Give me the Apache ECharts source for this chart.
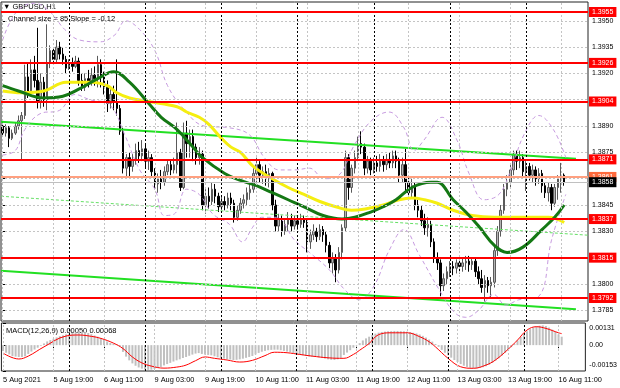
<!DOCTYPE html>
<html><head><meta charset="utf-8">
<script src="https://cdn.jsdelivr.net/npm/echarts@6/dist/echarts.min.js"></script>
<style>html,body{margin:0;padding:0;background:#fff}#c{width:620px;height:388px}</style>
</head><body><div id="c"></div><script>
// ---- hourly candles GBPUSD H1 (5 Aug 03:00 .. 16 Aug 12:00) ----
const opens = [1.3890,1.3886,1.3889,1.3883,1.3886,1.3890,1.3893,1.3896,1.3918,1.3910,
1.3922,1.3916,1.3904,1.3915,1.3905,1.3926,1.3933,1.3928,1.3935,1.3931,
1.3928,1.3923,1.3926,1.3924,1.3927,1.3916,1.3912,1.3917,1.3915,1.3919,
1.3917,1.3925,1.3918,1.3912,1.3903,1.3908,1.3904,1.3900,1.3887,1.3866,
1.3872,1.3867,1.3871,1.3876,1.3873,1.3877,1.3870,1.3872,1.3864,1.3857,
1.3860,1.3858,1.3864,1.3868,1.3865,1.3868,1.3875,1.3855,1.3886,1.3880,
1.3884,1.3878,1.3872,1.3874,1.3845,1.3850,1.3847,1.3854,1.3850,1.3844,
1.3847,1.3845,1.3849,1.3846,1.3838,1.3842,1.3846,1.3848,1.3852,1.3854,
1.3863,1.3868,1.3862,1.3864,1.3860,1.3863,1.3845,1.3833,1.3837,1.3830,
1.3834,1.3837,1.3833,1.3836,1.3834,1.3837,1.3835,1.3824,1.3828,1.3830,
1.3827,1.3831,1.3828,1.3822,1.3812,1.3815,1.3808,1.3818,1.3832,1.3872,
1.3855,1.3866,1.3872,1.3880,1.3878,1.3866,1.3870,1.3865,1.3869,1.3867,
1.3870,1.3868,1.3871,1.3869,1.3873,1.3870,1.3862,1.3868,1.3858,1.3852,
1.3856,1.3845,1.3842,1.3836,1.3832,1.3834,1.3824,1.3815,1.3812,1.3799,
1.3803,1.3807,1.3810,1.3809,1.3812,1.3810,1.3812,1.3813,1.3811,1.3813,
1.3807,1.3803,1.3798,1.3802,1.3799,1.3801,1.3819,1.3830,1.3842,1.3854,
1.3858,1.3865,1.3874,1.3870,1.3872,1.3864,1.3867,1.3862,1.3865,1.3860,
1.3863,1.3856,1.3852,1.3855,1.3846,1.3855,1.3860,1.3862];
const closes = [1.3886,1.3889,1.3883,1.3886,1.3890,1.3893,1.3896,1.3918,1.3910,1.3922,
1.3916,1.3904,1.3915,1.3905,1.3926,1.3933,1.3928,1.3935,1.3931,1.3928,
1.3923,1.3926,1.3924,1.3927,1.3916,1.3912,1.3917,1.3915,1.3919,1.3917,
1.3925,1.3918,1.3912,1.3903,1.3908,1.3904,1.3900,1.3887,1.3866,1.3872,
1.3867,1.3871,1.3876,1.3873,1.3877,1.3870,1.3872,1.3864,1.3857,1.3860,
1.3858,1.3864,1.3868,1.3865,1.3868,1.3875,1.3855,1.3886,1.3880,1.3884,
1.3878,1.3872,1.3874,1.3845,1.3850,1.3847,1.3854,1.3850,1.3844,1.3847,
1.3845,1.3849,1.3846,1.3838,1.3842,1.3846,1.3848,1.3852,1.3854,1.3863,
1.3868,1.3862,1.3864,1.3860,1.3863,1.3845,1.3833,1.3837,1.3830,1.3834,
1.3837,1.3833,1.3836,1.3834,1.3837,1.3835,1.3824,1.3828,1.3830,1.3827,
1.3831,1.3828,1.3822,1.3812,1.3815,1.3808,1.3818,1.3832,1.3872,1.3855,
1.3866,1.3872,1.3880,1.3878,1.3866,1.3870,1.3865,1.3869,1.3867,1.3870,
1.3868,1.3871,1.3869,1.3873,1.3870,1.3862,1.3868,1.3858,1.3852,1.3856,
1.3845,1.3842,1.3836,1.3832,1.3834,1.3824,1.3815,1.3812,1.3799,1.3803,
1.3807,1.3810,1.3809,1.3812,1.3810,1.3812,1.3813,1.3811,1.3813,1.3807,
1.3803,1.3798,1.3802,1.3799,1.3801,1.3819,1.3830,1.3842,1.3854,1.3858,
1.3865,1.3874,1.3870,1.3872,1.3864,1.3867,1.3862,1.3865,1.3860,1.3863,
1.3856,1.3852,1.3855,1.3846,1.3855,1.3860,1.3862,1.3858];
const lows = [1.3884,1.3884,1.3878,1.3882,1.3885,1.3888,1.3871,1.3894,1.3906,1.3908,
1.3912,1.3900,1.3900,1.3901,1.3899,1.3923,1.3926,1.3926,1.3928,1.3925,
1.3920,1.3922,1.3921,1.3923,1.3913,1.3910,1.3910,1.3912,1.3913,1.3913,
1.3912,1.3912,1.3908,1.3898,1.3900,1.3899,1.3896,1.3885,1.3863,1.3860,
1.3860,1.3864,1.3868,1.3869,1.3870,1.3866,1.3865,1.3861,1.3854,1.3852,
1.3854,1.3856,1.3862,1.3862,1.3863,1.3863,1.3853,1.3854,1.3872,1.3872,
1.3870,1.3868,1.3868,1.3842,1.3840,1.3843,1.3845,1.3846,1.3841,1.3842,
1.3842,1.3843,1.3842,1.3835,1.3836,1.3840,1.3843,1.3845,1.3848,1.3852,
1.3858,1.3858,1.3857,1.3856,1.3855,1.3842,1.3830,1.3830,1.3827,1.3828,
1.3830,1.3830,1.3831,1.3831,1.3832,1.3832,1.3818,1.3820,1.3825,1.3824,
1.3825,1.3824,1.3818,1.3809,1.3806,1.3801,1.3806,1.3814,1.3830,1.3848,
1.3852,1.3863,1.3870,1.3874,1.3862,1.3863,1.3862,1.3863,1.3864,1.3864,
1.3864,1.3865,1.3866,1.3866,1.3866,1.3858,1.3858,1.3852,1.3848,1.3849,
1.3842,1.3838,1.3833,1.3828,1.3827,1.3821,1.3812,1.3808,1.3793,1.3796,
1.3800,1.3804,1.3805,1.3806,1.3806,1.3807,1.3808,1.3807,1.3808,1.3804,
1.3800,1.3795,1.3790,1.3795,1.3792,1.3798,1.3816,1.3827,1.3840,1.3850,
1.3855,1.3862,1.3865,1.3866,1.3860,1.3853,1.3859,1.3858,1.3856,1.3857,
1.3852,1.3849,1.3847,1.3842,1.3844,1.3848,1.3852,1.3856];
const highs = [1.3893,1.3891,1.3890,1.3888,1.3892,1.3896,1.3898,1.3925,1.3926,1.3928,
1.3930,1.3946,1.3920,1.3918,1.3948,1.3936,1.3935,1.3939,1.3938,1.3935,
1.3930,1.3928,1.3929,1.3930,1.3929,1.3920,1.3920,1.3922,1.3923,1.3924,
1.3930,1.3928,1.3921,1.3916,1.3912,1.3913,1.3928,1.3902,1.3889,1.3874,
1.3875,1.3874,1.3880,1.3881,1.3882,1.3880,1.3876,1.3874,1.3866,1.3863,
1.3865,1.3867,1.3871,1.3871,1.3872,1.3892,1.3877,1.3892,1.3893,1.3888,
1.3888,1.3880,1.3878,1.3876,1.3854,1.3855,1.3858,1.3857,1.3852,1.3850,
1.3850,1.3852,1.3852,1.3848,1.3845,1.3849,1.3851,1.3855,1.3857,1.3866,
1.3872,1.3870,1.3867,1.3868,1.3866,1.3864,1.3848,1.3840,1.3839,1.3837,
1.3841,1.3840,1.3839,1.3839,1.3840,1.3839,1.3837,1.3831,1.3834,1.3832,
1.3834,1.3833,1.3830,1.3824,1.3818,1.3817,1.3821,1.3834,1.3876,1.3874,
1.3868,1.3876,1.3884,1.3887,1.3880,1.3873,1.3872,1.3872,1.3873,1.3874,
1.3873,1.3874,1.3875,1.3876,1.3876,1.3872,1.3872,1.3877,1.3862,1.3860,
1.3858,1.3848,1.3845,1.3840,1.3838,1.3836,1.3826,1.3818,1.3814,1.3806,
1.3810,1.3813,1.3813,1.3814,1.3814,1.3815,1.3816,1.3816,1.3815,1.3815,
1.3810,1.3808,1.3805,1.3804,1.3804,1.3822,1.3833,1.3845,1.3857,1.3862,
1.3868,1.3876,1.3876,1.3876,1.3874,1.3870,1.3869,1.3868,1.3867,1.3866,
1.3865,1.3858,1.3858,1.3857,1.3857,1.3862,1.3869,1.3863];

// ---- indicator readings [bar, value] ----
const maYellow = [[0,1.3910],[6,1.3909],[13,1.3910],[20,1.3915],[28,1.3915],[33,1.3913],[36,1.3909],[40,1.3906],[46,1.3904],[55,1.3901],[58,1.3898],[62,1.3895],[65,1.3891],[69,1.3883],[72,1.3878],[75,1.3875],[79,1.3867],[85,1.3860],[90,1.3855],[95,1.3851],[100,1.3847],[105,1.3844],[110,1.3842],[115,1.3843],[120,1.3845],[125,1.3848],[129,1.3849],[133,1.3848],[137,1.3846],[142,1.3842],[148,1.3839],[155,1.3838],[165,1.3838],[172,1.3838],[177,1.3835]];
const maGreen = [[0,1.3913],[5,1.3910],[13,1.3906],[19,1.3907],[24,1.3911],[30,1.3917],[35,1.3921],[40,1.3915],[46,1.3903],[50,1.3895],[55,1.3888],[60,1.3878],[63,1.3872],[70,1.3863],[75,1.3859],[80,1.3856],[85,1.3852],[90,1.3848],[95,1.3844],[101,1.3839],[107,1.3837],[111,1.3838],[116,1.3841],[120,1.3844],[124,1.3848],[129,1.3855],[135,1.3858],[137,1.3858],[142,1.3848],[146,1.3841],[150,1.3833],[155,1.3822],[159,1.3818],[164,1.3821],[170,1.3831],[174,1.3838],[177,1.3845]];
const bandUpper = [[0,1.3939],[2.3,1.3949],[5.5,1.3957],[10,1.3960],[15,1.3955],[19.6,1.3945],[24.3,1.3939],[30.6,1.3938],[35.4,1.3942],[38.8,1.3950],[43.2,1.3945],[48,1.3933],[52,1.3913],[57.4,1.3899],[63.6,1.3890],[71.5,1.3889],[77.8,1.3885],[82.5,1.3872],[87.2,1.3865],[92,1.3865],[96.7,1.3866],[101.4,1.3860],[106,1.3862],[110.8,1.3879],[116.2,1.3893],[121.8,1.3898],[126.5,1.3889],[129.7,1.3876],[132.8,1.3882],[138.5,1.3895],[143.2,1.3882],[147,1.3863],[151.7,1.3848],[156.4,1.3851],[160.2,1.3865],[164.3,1.3885],[169,1.3896],[173.6,1.3888],[177.5,1.3872]];
const bandLower = [[0,1.38735],[4,1.3876],[7,1.3888],[11.8,1.3897],[18,1.3899],[22.8,1.3908],[27.5,1.3905],[33.8,1.3902],[38.5,1.3885],[43.2,1.3865],[48,1.3854],[51,1.3839],[54.2,1.3840],[58,1.3854],[62,1.3851],[66.2,1.3840],[71.5,1.3834],[75.6,1.3824],[78.7,1.3832],[81.6,1.3838],[86.3,1.3838],[92,1.3825],[96.7,1.3818],[103,1.3808],[107.7,1.3797],[112.4,1.3791],[117.1,1.3799],[121.8,1.3819],[126.5,1.3831],[131.2,1.3817],[137.5,1.3797],[142.3,1.3784],[146,1.3781],[150,1.3785],[154.8,1.3794],[158.6,1.3788],[162.7,1.3791],[169,1.3793],[173,1.3825],[177.5,1.3851]];
const channelUpper = [[-0.5,1.38924],[180.7,1.38714]];
const channelLower = [[-0.5,1.38075],[180.7,1.37856]];
const channelMid = [[-0.5,1.38500],[184.5,1.38278]];

// ---- MACD(12,26,9) ----
const macdHist = [-0.00035,-0.00045,-0.00055,-0.00065,-0.00068,-0.0007,-0.0007,-0.00066,-0.00052,-0.00038,
-0.00026,-0.00015,-0.00004,0.0001,0.00022,0.0003,0.00038,0.00046,0.00053,0.00058,
0.00064,0.00068,0.00072,0.00077,0.00081,0.0008,0.00077,0.00072,0.00065,0.00057,
0.0005,0.00042,0.00032,0.00022,0.00013,0.00008,0.00005,-0.00008,-0.0004,-0.00068,
-0.0009,-0.00108,-0.00122,-0.00132,-0.00139,-0.00144,-0.00146,-0.00145,-0.00141,-0.00136,
-0.00129,-0.0012,-0.00112,-0.00105,-0.00097,-0.0009,-0.00084,-0.00076,-0.0007,-0.00063,
-0.00056,-0.0005,-0.00047,-0.00052,-0.00056,-0.00058,-0.0006,-0.00066,-0.00072,-0.00076,
-0.0008,-0.00083,-0.00085,-0.00088,-0.00087,-0.00084,-0.0008,-0.00075,-0.0007,-0.00064,
-0.00055,-0.00046,-0.00039,-0.00034,-0.0003,-0.00028,-0.00027,-0.00027,-0.0003,-0.00034,
-0.00038,-0.00042,-0.00048,-0.00053,-0.00057,-0.0006,-0.00064,-0.00067,-0.00069,-0.0007,
-0.00072,-0.00075,-0.00079,-0.00084,-0.00087,-0.00088,-0.00084,-0.00075,-0.00058,-0.00044,
-0.0003,-0.00015,-0.00002,0.00012,0.00028,0.0004,0.0005,0.0006,0.00068,0.00074,
0.00078,0.0008,0.00082,0.00083,0.00084,0.00084,0.00083,0.00082,0.0008,0.00077,
0.00073,0.00069,0.00063,0.00055,0.00045,0.00033,0.00021,0.00007,-0.0001,-0.00028,
-0.00045,-0.0006,-0.00074,-0.00088,-0.001,-0.00112,-0.00122,-0.00129,-0.00134,-0.00136,
-0.00137,-0.00135,-0.00131,-0.00125,-0.00116,-0.00105,-0.00092,-0.00078,-0.00062,-0.00046,
-0.0003,-0.00012,0.00008,0.00028,0.00048,0.00066,0.00082,0.00095,0.00105,0.00111,
0.00115,0.00117,0.00113,0.00104,0.00092,0.00078,0.00064,0.0005];
const macdSignal = [[0,-0.00047],[5,-0.00082],[8,-0.00065],[13,-0.0001],[20,0.00054],[24,0.0006],[28,0.00052],[31,0.0004],[35,0.00012],[38,-0.0002],[41,-0.0007],[44,-0.00105],[47,-0.00124],[51,-0.00136],[55,-0.0013],[58,-0.00118],[61,-0.00092],[64,-0.0007],[67,-0.00078],[71,-0.00088],[75,-0.001],[79,-0.0009],[83,-0.00062],[86,-0.00042],[90,-0.00045],[94,-0.00055],[98,-0.00065],[103,-0.00075],[108,-0.00078],[111,-0.00055],[113,-0.0003],[116,0.0001],[119,0.00062],[123,0.00073],[128,0.00073],[132,0.0005],[135,0.0002],[137,-0.0001],[141,-0.00078],[145,-0.00128],[149,-0.00137],[153,-0.00118],[156,-0.00088],[160,-0.00025],[163,0.0003],[166,0.00089],[169,0.00109],[172,0.00099],[176,0.00073],[177,0.00068]];

// ---- levels and axis ticks ----
const redLevels = [1.3955,1.3926,1.3904,1.3871,1.3837,1.3815,1.3792];
const orangeLevel = 1.3861;
const bidPrice = 1.3858;
const priceTicks = [1.3785,1.3800,1.3815,1.3830,1.3845,1.3860,1.3875,1.3890,1.3905,1.3920,1.3935,1.3950];
const macdTicks = [-0.00153,0,0.00131];
const dayNames = ['5 Aug','6 Aug','9 Aug','10 Aug','11 Aug','12 Aug','13 Aug','16 Aug'];
const tickBars = [0,16,32,48,64,80,96,112,128,144,160,176];
const tickLabels = ['5 Aug 2021','5 Aug 19:00','6 Aug 11:00','9 Aug 03:00','9 Aug 19:00','10 Aug 11:00','11 Aug 03:00','11 Aug 19:00','12 Aug 11:00','13 Aug 03:00','13 Aug 19:00','16 Aug 11:00'];
const daySepBars = [21,45,69,93,117,141,165];

// hourly category names (incl. empty right margin of the chart)
const cats = [];
dayNames.forEach((d,k)=>{
  const h0 = k===0?3:0, h1 = k===dayNames.length-1?19:23;
  for(let h=h0;h<=h1;h++) cats.push(d+' '+String(h).padStart(2,'0')+':00');
});
const N = cats.length;

const FONT = 'Liberation Sans';
const chart = echarts.init(document.getElementById('c'), null, {renderer:'canvas'});
const isTick = (i)=>tickBars.indexOf(i)>=0;
const gridLineStyle = {color:'#C4C4C4', type:[2,2], width:1};
const sepStyle = {color:'#000', type:[2,2], width:1};

function levelItem(v, lineColor, lineWidth, boxColor){
  return {yAxis:v, lineStyle:{color:lineColor, width:lineWidth, type:'solid'},
    label:{show:true, position:'end', distance:1, formatter:v.toFixed(4), color:'#fff',
      backgroundColor:boxColor, padding:[2,3,1,3], fontSize:7, fontFamily:FONT}};
}

const option = {
  animation:false,
  backgroundColor:'#fff',
  grid:[
    {left:1, top:2, width:587, height:319, show:true, borderColor:'#222', borderWidth:1, backgroundColor:'transparent'},
    {left:1, top:323, width:587, height:48, show:true, borderColor:'#222', borderWidth:1, backgroundColor:'transparent'}
  ],
  xAxis:[
    {type:'category', gridIndex:0, data:cats, boundaryGap:true, axisLine:{show:false}, axisTick:{show:false}, axisLabel:{show:false}, splitLine:{show:false}},
    {type:'value', gridIndex:0, min:-0.5, max:N-0.5, show:false},
    {type:'category', gridIndex:1, data:cats, boundaryGap:true, axisLine:{show:false},
      axisTick:{show:true, interval:(i)=>isTick(i), alignWithLabel:true, length:3, lineStyle:{color:'#000'}},
      axisLabel:{show:true, interval:(i)=>isTick(i), formatter:(v,i)=>tickLabels[tickBars.indexOf(i)],
        align:'left', margin:5, fontSize:7.4, fontFamily:FONT, color:'#000'},
      splitLine:{show:false}},
    {type:'value', gridIndex:1, min:-0.5, max:N-0.5, show:false}
  ],
  yAxis:[
    {type:'value', gridIndex:0, position:'right', min:1.37789, max:1.39607, scale:true,
      axisLine:{show:false}, splitLine:{show:false},
      axisTick:{show:true, length:3, customValues:priceTicks, lineStyle:{color:'#000'}},
      axisLabel:{show:true, customValues:priceTicks, formatter:(v)=>v.toFixed(4), margin:4, fontSize:7, fontFamily:FONT, color:'#000'}},
    {type:'value', gridIndex:1, position:'right', min:-0.00153, max:0.00131,
      axisLine:{show:false}, splitLine:{show:false},
      axisTick:{show:true, length:3, customValues:macdTicks, lineStyle:{color:'#000'}},
      axisLabel:{show:true, customValues:macdTicks, margin:4, fontSize:7, fontFamily:FONT, color:'#000',
        formatter:(v)=> v>0 ? '{t|'+v.toFixed(5)+'}' : (v<0 ? '{b|'+v.toFixed(5)+'}' : '0.00'),
        rich:{t:{fontSize:7, fontFamily:FONT, padding:[11,0,0,0]}, b:{fontSize:7, fontFamily:FONT, padding:[0,0,12,0]}}}}
  ],
  graphic:[
    {type:'text', left:3, top:3, style:{text:'\u25BC GBPUSD,H1', font:'7.5px "Liberation Sans"', fill:'#000'}},
    {type:'text', left:8, top:15, style:{text:'Channel size = 85 Slope = -0.12', font:'7.5px "Liberation Sans"', fill:'#000'}},
    {type:'text', left:6, top:327, style:{text:'MACD(12,26,9) 0.00050 0.00068', font:'7.5px "Liberation Sans"', fill:'#000'}}
  ],
  series:[
    {name:'grid', type:'line', xAxisIndex:1, yAxisIndex:0, data:[], z:0, silent:true,
      markLine:{silent:true, precision:6, symbol:['none','none'], label:{show:false}, lineStyle:gridLineStyle,
        data:[...priceTicks.map(v=>({yAxis:v})), ...tickBars.map(b=>({xAxis:b})),
              ...daySepBars.map(b=>({xAxis:b, lineStyle:sepStyle}))]}},
    {name:'grid2', type:'line', xAxisIndex:3, yAxisIndex:1, data:[], z:0, silent:true,
      markLine:{silent:true, precision:6, symbol:['none','none'], label:{show:false}, lineStyle:gridLineStyle,
        data:[...tickBars.map(b=>({xAxis:b})), ...daySepBars.map(b=>({xAxis:b, lineStyle:sepStyle}))]}},
    {name:'levels', type:'line', xAxisIndex:1, yAxisIndex:0, data:[], z:1, silent:true,
      markLine:{silent:true, precision:6, symbol:['none','none'],
        data:[...redLevels.map(v=>levelItem(v,'#FF0000',2,'#FF0000')),
              levelItem(orangeLevel,'#FFA080',2,'#FF6A3C'),
              levelItem(bidPrice,'#C0C0C0',1,'#000000')]}},
    {name:'GBPUSD', type:'candlestick', xAxisIndex:0, yAxisIndex:0, z:2, barWidth:2,
      data:opens.map((o,i)=>[o, closes[i], lows[i], highs[i]]),
      itemStyle:{color:'#B4B4B4', color0:'#000', borderColor:'#5A5A5A', borderColor0:'#000', borderWidth:1}},
    {name:'channelUpper', type:'line', xAxisIndex:1, yAxisIndex:0, z:3, data:channelUpper, symbol:'none', lineStyle:{color:'#22E022', width:2}},
    {name:'channelLower', type:'line', xAxisIndex:1, yAxisIndex:0, z:3, data:channelLower, symbol:'none', lineStyle:{color:'#22E022', width:2}},
    {name:'channelMid', type:'line', xAxisIndex:1, yAxisIndex:0, z:3, data:channelMid, symbol:'none', lineStyle:{color:'#66E066', width:1, type:[3,2]}},
    {name:'bandUpper', type:'line', xAxisIndex:1, yAxisIndex:0, z:3, data:bandUpper, symbol:'none', smooth:0.4, lineStyle:{color:'#C79BE0', width:1, type:[4,3]}},
    {name:'bandLower', type:'line', xAxisIndex:1, yAxisIndex:0, z:3, data:bandLower, symbol:'none', smooth:0.4, lineStyle:{color:'#C79BE0', width:1, type:[4,3]}},
    {name:'maYellow', type:'line', xAxisIndex:1, yAxisIndex:0, z:4, data:maYellow, symbol:'none', smooth:0.4, lineStyle:{color:'#F5EE10', width:3}},
    {name:'maGreen', type:'line', xAxisIndex:1, yAxisIndex:0, z:4, data:maGreen, symbol:'none', smooth:0.4, lineStyle:{color:'#147814', width:3}},
    {name:'MACD', type:'bar', xAxisIndex:2, yAxisIndex:1, z:2, data:macdHist, barWidth:2, itemStyle:{color:'#C0C0C0'}},
    {name:'Signal', type:'line', xAxisIndex:3, yAxisIndex:1, z:3, data:macdSignal, symbol:'none', smooth:0.4, lineStyle:{color:'#FF0000', width:1}}
  ]
};
chart.setOption(option);
</script></body></html>
